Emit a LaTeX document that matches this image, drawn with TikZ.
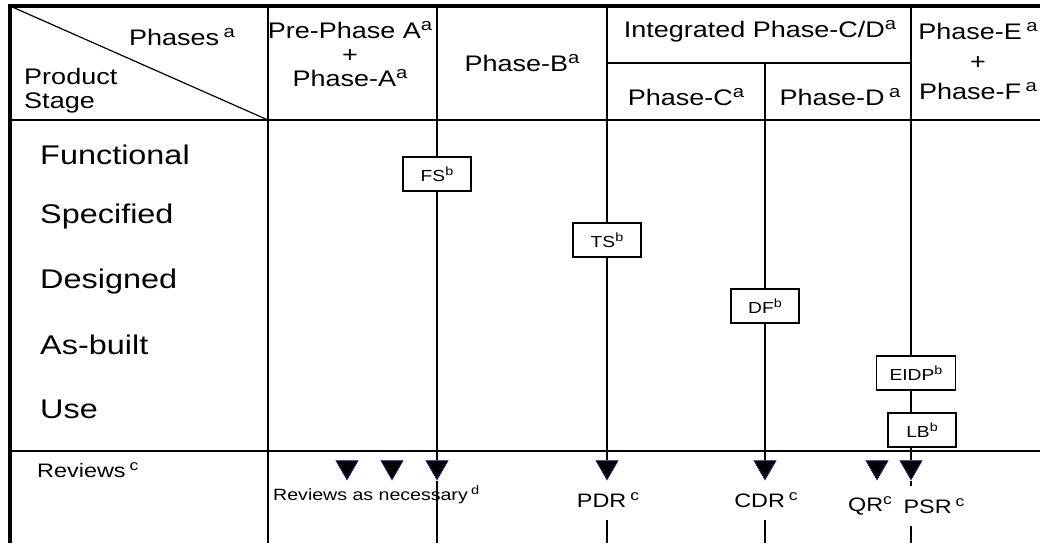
\documentclass[tikz,border=0pt]{standalone}
\usepackage{fontspec}
\setmainfont{Liberation Sans}
\usetikzlibrary{shapes.geometric}

\definecolor{navyedge}{RGB}{35,35,110}
\newcommand{\nt}[1]{\raisebox{0.36em}{\scalebox{0.75}{#1}}}

\tikzset{
  frame line/.style={line width=4.3pt},
  grid line/.style={line width=1.6pt},
  ms line/.style={line width=1.6pt},
  head/.style={font=\fontsize{22.5}{24}\selectfont, xscale=1.2, align=center, inner sep=0pt},
  stage/.style={font=\fontsize{27}{28}\selectfont, xscale=1.2, anchor=west, inner sep=0pt},
  review/.style={font=\fontsize{19.5}{21}\selectfont, xscale=1.2, inner sep=0pt},
  msbox/.style={draw, line width=1.2pt, fill=white, font=\fontsize{16}{18}\selectfont, xscale=1.2,
    minimum width=56.7pt, minimum height=34pt, inner sep=0pt},
  tri/.style={regular polygon, regular polygon sides=3, shape border rotate=180, minimum size=25.4pt,
    inner sep=0pt, fill=black, draw=navyedge, line width=0.8pt},
}

\begin{document}
\begin{tikzpicture}[x=1pt, y=-1pt]
  \useasboundingbox (0,0) rectangle (1040,543);

  % table frame and rulings
  \draw [frame line] (10,543) -- (10,6) -- (1040,6);
  \draw [line width=1.2pt] (10,6) -- (268,120);
  \draw [grid line] (10,120) -- (1040,120);
  \draw [grid line] (10,451) -- (1040,451);
  \draw [grid line] (268,6) -- (268,543);
  \draw [grid line] (607,63) -- (911,63);
  \foreach \x in {437,607,911}
    \draw [grid line] (\x,6) -- (\x,120);
  \draw [grid line] (765,63) -- (765,120);

  % header
  \node [head] (phases) at (182,37) {Phases\,\nt{a}};
  \node [head, align=left, anchor=west] (prodstage) at (24,91) {Product\\Stage};
  \node [head] (phaseA) at (350,54) {Pre-Phase A\nt{a}\\+\\Phase-A\nt{a}};
  \node [head] (phaseB) at (522,63) {Phase-B\nt{a}};
  \node [head] (phaseCD) at (760,31) {Integrated Phase-C/D\nt{a}};
  \node [head] (phaseC) at (686,97) {Phase-C\nt{a}};
  \node [head] (phaseD) at (840,97) {Phase-D\,\nt{a}};
  \node [head, font=\fontsize{22.5}{30}\selectfont] (phaseEF) at (978,61) {Phase-E\,\nt{a}\\+\\Phase-F\,\nt{a}};

  % product stages
  \foreach \y/\name in {155/Functional, 217/Specified, 282/Designed, 345/As-built, 409/Use}
    \node [stage] (st-\name) at (40,\y) {\name};

  % milestone ends
  \coordinate (mFS) at (437,120);
  \coordinate (mTS) at (607,120);
  \coordinate (mDF) at (765,120);
  \coordinate (mEI) at (911,120);
  \coordinate (eFS) at (437,543);
  \coordinate (eTS) at (607,543);
  \coordinate (eDF) at (765,543);
  \coordinate (eEI) at (911,543);

  % baselines
  \node [msbox] (fs) at (437,174) {FS\nt{b}};
  \node [msbox] (ts) at (607,240) {TS\nt{b}};
  \node [msbox] (df) at (765,306) {DF\nt{b}};
  \node [msbox, minimum width=66pt] (eidp) at (916,373) {EIDP\nt{b}};
  \node [msbox] (lb) at (922,430) {LB\nt{b}};

  % reviews
  \node [review, anchor=west] (reviews) at (37,470) {Reviews\,\nt{c}};
  \node [review, font=\fontsize{16.3}{18}\selectfont, anchor=west] (asnec) at (273,495) {Reviews as necessary\,\nt{d}};
  \node [review] (pdr) at (608,500) {PDR\,\nt{c}};
  \node [review] (cdr) at (766,500) {CDR\,\nt{c}};
  \node [review] (qr) at (870,506) {QR\nt{c}};
  \node [review] (psr) at (934,506) {PSR\,\nt{c}};

  \foreach \x/\n in {347/r1, 392/r2, 437/r3, 607/rPDR, 765/rCDR, 877/rQR, 911/rPSR}
    \node [tri] (\n) at (\x,467) {};

  % milestone lines
  \draw [ms line] (mFS) -- (fs);
  \draw [ms line] (fs) -- (r3);
  \draw [ms line] (r3.corner 1) -- (eFS);
  \draw [ms line] (mTS) -- (ts);
  \draw [ms line] (ts) -- (rPDR);
  \draw [ms line, shorten <=12pt] (rPDR |- pdr.south) -- (eTS);
  \draw [ms line] (mDF) -- (df);
  \draw [ms line] (df) -- (rCDR);
  \draw [ms line, shorten <=12pt] (rCDR |- cdr.south) -- (eDF);
  \draw [ms line] (mEI) -- (mEI |- eidp.north);
  \draw [ms line] (mEI |- eidp.south) -- (mEI |- lb.north);
  \draw [ms line] (mEI |- lb.south) -- (rPSR);
  \draw [ms line, shorten >=12pt] (rPSR.corner 1) -- (rPSR |- psr.north);
  \draw [ms line, shorten <=12pt] (rPSR |- psr.south) -- (eEI);
\end{tikzpicture}
\end{document}
